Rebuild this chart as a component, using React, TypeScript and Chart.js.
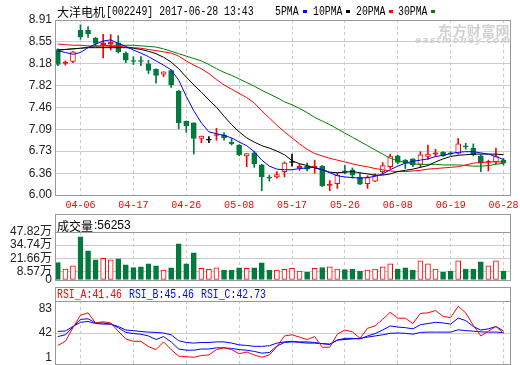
import React, { useEffect, useRef } from "react";
import { Chart, registerables } from "chart.js";

Chart.register(...registerables);

// ---------- data ----------
const dates = [
  "03-30", "03-31", "04-05", "04-06", "04-07", "04-10", "04-11", "04-12", "04-13", "04-14",
  "04-17", "04-18", "04-19", "04-20", "04-21", "04-24", "04-25", "04-26", "04-27", "04-28",
  "05-02", "05-03", "05-04", "05-05", "05-08", "05-09", "05-10", "05-11", "05-12", "05-15",
  "05-16", "05-17", "05-18", "05-19", "05-22", "05-23", "05-24", "05-25", "05-26", "05-31",
  "06-01", "06-02", "06-05", "06-06", "06-07", "06-08", "06-09", "06-12", "06-13", "06-14",
  "06-15", "06-16", "06-19", "06-20", "06-21", "06-22", "06-23", "06-26", "06-27", "06-28",
];
const dateTickIdx = [3, 10, 17, 24, 31, 38, 45, 52, 59];

const open = [
  8.42, 8.19, 8.22, 8.74, 8.74, 8.61, 8.50, 8.51, 8.53, 8.36,
  8.23, 8.225, 8.18, 8.09, 8.01, 8.07, 7.73, 7.23, 7.20, 6.94,
  6.91, 6.99, 7.00, 6.88, 6.83, 6.65, 6.70, 6.50, 6.285, 6.30,
  6.39, 6.54, 6.45, 6.48, 6.46, 6.48, 6.16, 6.19, 6.40, 6.42,
  6.30, 6.19, 6.23, 6.39, 6.47, 6.65, 6.58, 6.60, 6.51, 6.64,
  6.68, 6.71, 6.70, 6.69, 6.81, 6.78, 6.65, 6.54, 6.55, 6.58,
];
const high = [
  8.43, 8.23, 8.39, 8.83, 8.80, 8.62, 8.67, 8.67, 8.65, 8.38,
  8.30, 8.30, 8.24, 8.10, 8.05, 8.08, 7.74, 7.23, 7.20, 6.98,
  6.97, 7.11, 7.04, 6.94, 6.84, 6.69, 6.73, 6.51, 6.33, 6.39,
  6.55, 6.68, 6.52, 6.53, 6.58, 6.49, 6.24, 6.36, 6.49, 6.45,
  6.36, 6.32, 6.35, 6.54, 6.68, 6.66, 6.59, 6.60, 6.72, 6.83,
  6.76, 6.72, 6.72, 6.94, 6.86, 6.85, 6.67, 6.58, 6.78, 6.61,
];
const low = [
  8.15, 8.16, 8.20, 8.59, 8.62, 8.48, 8.28, 8.41, 8.36, 8.20,
  8.17, 8.15, 8.02, 7.86, 7.97, 7.79, 7.10, 7.04, 6.68, 6.87,
  6.87, 6.91, 6.91, 6.83, 6.65, 6.47, 6.46, 6.07, 6.23, 6.28,
  6.30, 6.48, 6.41, 6.40, 6.36, 6.14, 6.07, 6.11, 6.35, 6.28,
  6.17, 6.11, 6.22, 6.34, 6.44, 6.52, 6.44, 6.47, 6.46, 6.59,
  6.64, 6.64, 6.66, 6.68, 6.76, 6.65, 6.39, 6.40, 6.52, 6.50,
];
const close = [
  8.17, 8.21, 8.38, 8.63, 8.68, 8.52, 8.53, 8.54, 8.38, 8.24,
  8.22, 8.22, 8.07, 7.99, 8.05, 7.83, 7.20, 7.15, 6.94, 6.98,
  6.91, 7.00, 6.95, 6.85, 6.67, 6.69, 6.52, 6.30, 6.28, 6.34,
  6.53, 6.54, 6.48, 6.43, 6.48, 6.15, 6.17, 6.33, 6.38, 6.33,
  6.18, 6.29, 6.33, 6.49, 6.64, 6.54, 6.53, 6.50, 6.67, 6.68,
  6.70, 6.65, 6.68, 6.85, 6.80, 6.67, 6.53, 6.55, 6.64, 6.53,
];
// volume in 万
const volume = [
  17.3, 11, 14, 43, 29, 20, 21.6, 20, 21, 15,
  12.3, 13, 16, 14, 10, 12, 36, 16, 27, 11.7,
  10.7, 12, 10, 10, 12, 11.7, 12, 17, 10, 10,
  10.7, 11.7, 9, 8, 11.7, 12.3, 13, 11, 10.3, 11,
  9, 10, 11, 13, 16, 11, 12, 10, 19, 16,
  11, 8, 9, 19, 11, 11, 18, 14, 19, 9,
];
const ma5 = [
  8.40, 8.37, 8.34, 8.37, 8.45, 8.51, 8.56, 8.58, 8.52, 8.47,
  8.41, 8.36, 8.30, 8.23, 8.16, 8.08, 7.91, 7.64, 7.40, 7.20,
  7.05, 7.02, 6.99, 6.95, 6.88, 6.82, 6.72, 6.58, 6.48, 6.43,
  6.42, 6.42, 6.44, 6.45, 6.46, 6.42, 6.37, 6.32, 6.30, 6.29,
  6.28, 6.29, 6.31, 6.35, 6.42, 6.48, 6.53, 6.56, 6.58, 6.60,
  6.64, 6.66, 6.69, 6.71, 6.72, 6.72, 6.70, 6.68, 6.64, 6.59,
];
const ma10 = [
  8.41, 8.42, 8.43, 8.44, 8.45, 8.45, 8.45, 8.45, 8.45, 8.45,
  8.44, 8.42, 8.39, 8.35, 8.29, 8.21, 8.10, 7.96, 7.83, 7.71,
  7.58, 7.46, 7.31, 7.17, 7.05, 6.95, 6.88, 6.82, 6.78, 6.73,
  6.67, 6.57, 6.52, 6.49, 6.45, 6.42, 6.38, 6.37, 6.38, 6.39,
  6.37, 6.35, 6.33, 6.33, 6.35, 6.39, 6.41, 6.43, 6.46, 6.49,
  6.55, 6.60, 6.64, 6.66, 6.67, 6.68, 6.68, 6.68, 6.68, 6.67,
];
const ma20 = [
  8.51, 8.50, 8.49, 8.49, 8.48, 8.48, 8.48, 8.47, 8.47, 8.46,
  8.45, 8.44, 8.42, 8.40, 8.38, 8.36, 8.31, 8.23, 8.16, 8.10,
  8.02, 7.92, 7.83, 7.76, 7.69, 7.62, 7.53, 7.40, 7.28, 7.16,
  7.05, 6.95, 6.85, 6.76, 6.69, 6.65, 6.61, 6.58, 6.55, 6.52,
  6.49, 6.47, 6.44, 6.42, 6.40, 6.39, 6.39, 6.40, 6.41, 6.43,
  6.44, 6.45, 6.46, 6.47, 6.50, 6.53, 6.54, 6.55, 6.55, 6.55,
];
const ma30 = [
  8.41, 8.42, 8.43, 8.44, 8.46, 8.47, 8.48, 8.49, 8.49, 8.49,
  8.49, 8.48, 8.47, 8.46, 8.43, 8.39, 8.35, 8.31, 8.27, 8.23,
  8.17, 8.10, 8.04, 7.99, 7.93, 7.87, 7.81, 7.74, 7.68, 7.62,
  7.55, 7.50, 7.44, 7.37, 7.29, 7.23, 7.17, 7.10, 7.03, 6.96,
  6.89, 6.82, 6.75, 6.68, 6.61, 6.57, 6.54, 6.52, 6.51, 6.51,
  6.51, 6.50, 6.50, 6.50, 6.49, 6.48, 6.48, 6.49, 6.51, 6.53,
];
const rsiA = [
  21, 28, 51, 72, 76, 59, 61, 59, 45, 32,
  28, 28, 19, 14, 27, 14, 3, 2, 1, 4,
  5, 14, 17, 14, 7, 10, 5, 1, 5, 19,
  37, 39, 35, 31, 36, 18, 18, 40, 47, 44,
  33, 50, 54, 65, 77, 67, 67, 58, 75, 76,
  80, 70, 68, 87, 76, 55, 37, 45, 53, 41.46,
];
const rsiB = [
  36, 39, 52, 65, 66, 59, 59, 57, 51, 43,
  41, 40, 37, 31, 36, 27, 15, 13, 13, 15,
  15, 17, 17, 16, 14, 13, 11, 8, 9, 20,
  26, 27, 27, 27, 26, 24, 23, 30, 33, 33,
  32, 37, 41, 47, 54, 52, 51, 49, 56, 58,
  60, 59, 57, 67, 63, 53, 47, 49, 53, 45.46,
];
const rsiC = [
  44.7, 45.4, 53, 60, 61.5, 58, 57, 57, 53, 47,
  46, 44.5, 43.5, 43, 42, 39, 29, 26, 25, 26,
  26, 27, 27, 25, 22, 21, 19.5, 19.5, 20.5, 25,
  27, 28, 26, 25, 25, 24, 23, 30, 31, 32,
  33, 35, 37, 39, 41.5, 42, 41.5, 40, 43, 43.5,
  43.5, 43.5, 43.5, 47.5, 46, 45, 44, 43.5, 43.5, 42.73,
];
const priceTicks = [6.0, 6.36, 6.73, 7.09, 7.46, 7.82, 8.18, 8.55, 8.91];
const volTicks = [0, 8.57, 21.66, 34.74, 47.82];
const volTickLabels = ["0", "8.57万", "21.66万", "34.74万", "47.82万"];
const rsiTicks = [1, 42, 83];

// ---------- styles ----------
const RED = "#ff0000";
const GREEN = "#007a3d";
const BLUE = "#0000ff";
const GRID = "#cccccc";
const BORDER = "#999999";
const X_MIN = -0.376;
const X_MAX = 59.86;
const TICK_FONT = { family: "'Liberation Sans', 'Noto Sans CJK SC'", size: 12 };

const idx = close.map((_, i) => i);
const candleColor = (i: number) => (close[i] > open[i] ? RED : close[i] < open[i] ? GREEN : "#000000");
const bodyFill = (i: number) =>
  close[i] > open[i] ? (close[i] - open[i] < 0.035 ? RED : "#ffffff") : candleColor(i);

function xAxis(showLabels: boolean, h: number): any {
  return {
    type: "linear",
    min: X_MIN,
    max: X_MAX,
    offset: false,
    afterBuildTicks: (s: any) => {
      s.ticks = dateTickIdx.map((v) => ({ value: v }));
    },
    afterFit: (s: any) => {
      s.height = h;
      s.paddingLeft = 0;
      s.paddingRight = 0;
    },
    grid: { color: GRID, drawTicks: false, offset: false, lineWidth: 1 },
    border: { display: false, dash: [3, 3] },
    ticks: {
      display: showLabels,
      autoSkip: false,
      maxRotation: 0,
      minRotation: 0,
      padding: 4,
      color: RED,
      font: { family: "'Liberation Mono'", size: 10 },
      callback: (v: any) => dates[v] ?? "",
    },
  };
}

function yAxis(min: number, max: number, ticks: number[], label: (v: number) => string, gridColor?: any): any {
  return {
    type: "linear",
    min,
    max,
    afterBuildTicks: (s: any) => {
      s.ticks = ticks.map((v) => ({ value: v }));
    },
    afterFit: (s: any) => {
      s.width = 55;
      s.paddingTop = 0;
      s.paddingBottom = 0;
    },
    grid: { color: gridColor ?? GRID, drawTicks: false, lineWidth: 1 },
    border: { display: false },
    ticks: {
      autoSkip: false,
      padding: 3,
      color: "#222222",
      font: TICK_FONT,
      callback: (v: any) => label(Number(v)),
    },
  };
}

const baseOpts = {
  responsive: false,
  animation: false as const,
  devicePixelRatio: 1,
  events: [] as any[],
  plugins: { legend: { display: false }, tooltip: { enabled: false }, title: { display: false } },
};

const lineDs = (data: number[], color: string, order = 0): any => ({
  type: "line",
  data: data.map((v, i) => ({ x: i, y: v })),
  borderColor: color,
  borderWidth: 1,
  pointRadius: 0,
  tension: 0,
  fill: false,
  order,
});

function Txt(props: { x: number; y: number; text: string; color?: string; mono?: boolean; font?: string; extra?: any }) {
  const { x, y, text, color = "#000", mono, font, extra } = props;
  const style: any = {
    position: "absolute",
    left: x,
    top: y,
    whiteSpace: "pre",
    lineHeight: "12px",
    color,
    font: font ?? (mono ? "12px 'Liberation Mono'" : "12px 'Noto Sans CJK SC'"),
    ...(mono ? { transform: "scaleX(0.82)", transformOrigin: "left top" } : {}),
    ...(extra || {}),
  };
  return <span style={style}>{text}</span>;
}

function Box(props: { x: number; y: number; w: number; h: number }) {
  return (
    <div
      style={{
        position: "absolute",
        left: props.x,
        top: props.y,
        width: props.w,
        height: props.h,
        border: `1px solid ${BORDER}`,
        boxSizing: "border-box",
        pointerEvents: "none",
      }}
    />
  );
}
function HLine(props: { x: number; y: number; w: number }) {
  return <div style={{ position: "absolute", left: props.x, top: props.y, width: props.w, height: 1, background: BORDER }} />;
}
function Swatch(props: { x: number; color: string }) {
  return <div style={{ position: "absolute", left: props.x, top: 10, width: 4, height: 3, background: props.color }} />;
}

export default function App() {
  const mainRef = useRef<HTMLCanvasElement>(null);
  const volRef = useRef<HTMLCanvasElement>(null);
  const rsiRef = useRef<HTMLCanvasElement>(null);

  useEffect(() => {
    const charts: Chart[] = [];

    // price chart
    charts.push(
      new Chart(mainRef.current as HTMLCanvasElement, {
        type: "bar",
        data: {
          datasets: [
            {
              type: "bar",
              data: idx.map((i) => ({ x: i, y: [low[i], high[i]] })) as any,
              backgroundColor: idx.map(candleColor),
              borderWidth: 0,
              barThickness: 1,
              grouped: false,
              order: 5,
            } as any,
            {
              type: "bar",
              data: idx.map((i) => ({ x: i, y: [open[i], close[i]] })) as any,
              backgroundColor: idx.map(bodyFill),
              borderColor: idx.map(candleColor),
              borderWidth: 1,
              borderSkipped: false,
              barThickness: 5,
              minBarLength: 1,
              grouped: false,
              order: 4,
            } as any,
            lineDs(ma30, "#008000", 3),
            lineDs(ma20, RED, 2),
            lineDs(ma10, "#000000", 1),
            lineDs(ma5, BLUE, 0),
          ],
        },
        options: {
          ...baseOpts,
          layout: { padding: { top: 20, left: 0, right: 10, bottom: 0 } },
          scales: {
            x: xAxis(true, 21),
            y: yAxis(6.0, 8.91, priceTicks, (v) => v.toFixed(2)),
          },
        } as any,
      })
    );

    // volume chart
    charts.push(
      new Chart(volRef.current as HTMLCanvasElement, {
        type: "bar",
        data: {
          datasets: [
            {
              type: "bar",
              data: idx.map((i) => ({ x: i, y: volume[i] })) as any,
              backgroundColor: idx.map((i) => (close[i] >= open[i] ? "#ffffff" : GREEN)),
              borderColor: idx.map((i) => (close[i] >= open[i] ? RED : GREEN)),
              borderWidth: 1,
              borderSkipped: false,
              barThickness: 5,
              grouped: false,
            } as any,
          ],
        },
        options: {
          ...baseOpts,
          layout: { padding: { top: 16, left: 0, right: 10, bottom: 4 } },
          scales: {
            x: xAxis(false, 0),
            y: yAxis(0, 47.82, volTicks, (v) => volTickLabels[volTicks.indexOf(v)] ?? ""),
          },
        } as any,
      })
    );

    // RSI chart
    charts.push(
      new Chart(rsiRef.current as HTMLCanvasElement, {
        type: "line",
        data: {
          datasets: [lineDs(rsiC, BLUE, 2), lineDs(rsiB, BLUE, 1), lineDs(rsiA, RED, 0)],
        },
        options: {
          ...baseOpts,
          layout: { padding: { top: 17, left: 0, right: 10, bottom: 1 } },
          scales: {
            x: xAxis(false, 0),
            y: yAxis(-10.3, 96, rsiTicks, (v) => String(v), (ctx: any) =>
              ctx.tick && ctx.tick.value === 42 ? GRID : "rgba(0,0,0,0)"
            ),
          },
        } as any,
      })
    );

    return () => charts.forEach((c) => c.destroy());
  }, []);

  return (
    <div style={{ position: "absolute", left: 0, top: 0, width: 520, height: 365, background: "#fff", overflow: "hidden" }}>
      <canvas ref={mainRef} width={520} height={216} style={{ position: "absolute", left: 0, top: 0, width: 520, height: 216 }} />
      <canvas ref={volRef} width={520} height={68} style={{ position: "absolute", left: 0, top: 216, width: 520, height: 68 }} />
      <canvas ref={rsiRef} width={520} height={81} style={{ position: "absolute", left: 0, top: 284, width: 520, height: 81 }} />

      <Box x={55} y={20} w={456} h={176} />
      <Box x={55} y={214} w={456} h={67} />
      <HLine x={55} y={232} w={456} />
      <Box x={55} y={287} w={456} h={78} />
      <HLine x={55} y={301} w={456} />

      {/* title */}
      <Txt x={57} y={3} text="大洋电机" />
      <Txt x={106} y={5} mono text="[002249] 2017-06-28 13:43" />

      {/* legend */}
      <Txt x={275} y={5} mono text="5PMA" />
      <Swatch x={303} color={BLUE} />
      <Txt x={313} y={5} mono text="10PMA" />
      <Swatch x={346} color="#000000" />
      <Txt x={356} y={5} mono text="20PMA" />
      <Swatch x={389} color={RED} />
      <Txt x={398} y={5} mono text="30PMA" />
      <Swatch x={431} color="#008000" />

      {/* watermark */}
      <Txt x={438} y={20} text="东方财富网" color="#d2d2d2" font="bold 14px 'Noto Sans CJK SC'" extra={{ lineHeight: "14px", letterSpacing: "0.4px" }} />
      <Txt x={415} y={35} text="eastmoney.com" color="#d2d2d2" font="bold italic 9px 'DejaVu Sans'" extra={{ lineHeight: "10px", letterSpacing: "1.3px" }} />

      {/* volume header */}
      <Txt x={57} y={217} text="成交量" />
      <Txt x={94} y={218} text=":56253" font="12px 'Liberation Sans'" />

      {/* RSI header */}
      <Txt x={57} y={288} mono color={RED} text="RSI_A:41.46" />
      <Txt x={129} y={288} mono color={BLUE} text="RSI_B:45.46" />
      <Txt x={201} y={288} mono color={BLUE} text="RSI_C:42.73" />
    </div>
  );
}
